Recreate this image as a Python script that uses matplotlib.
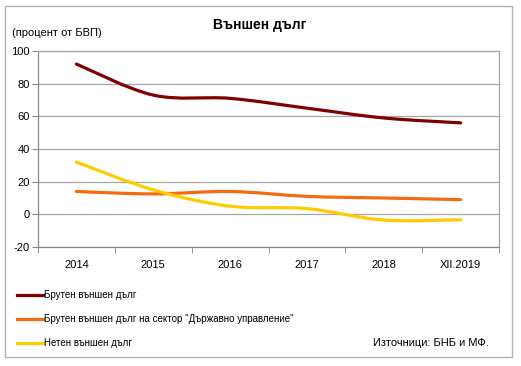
import numpy as np
import matplotlib
matplotlib.use("Agg")
import matplotlib.pyplot as plt
from matplotlib.path import Path
from matplotlib.patches import PathPatch, Rectangle
from matplotlib.lines import Line2D

plt.rcParams["font.family"] = ["Liberation Sans", "DejaVu Sans"]
plt.rcParams["axes.unicode_minus"] = False

# --- данни ---
godini = ["2014", "2015", "2016", "2017", "2018", "XII.2019"]
bruten_dalg = [92, 73, 71, 65, 59, 56]
bruten_du = [14, 12.5, 14, 11, 10, 9]
neten_dalg = [32, 15, 5, 3.5, -3.5, -3.3]

serii = [
    ("Брутен външен дълг", bruten_dalg, "#800000"),
    ("Брутен външен дълг на сектор \"Държавно управление\"", bruten_du, "#F26B10"),
    ("Нетен външен дълг", neten_dalg, "#FFCC00"),
]

GRID = "#A6A6A6"


def gladka(x, y):
    # Bezier пътека тип Catmull-Rom (изглаждане като в Excel)
    x = np.asarray(x, float); y = np.asarray(y, float)
    pts = np.column_stack([x, y])
    verts = [pts[0]]
    codes = [Path.MOVETO]
    n = len(pts)
    for i in range(n - 1):
        p0 = pts[i - 1] if i > 0 else pts[i]
        p1, p2 = pts[i], pts[i + 1]
        p3 = pts[i + 2] if i + 2 < n else pts[i + 1]
        c1 = p1 + (p2 - p0) / 6.0
        c2 = p2 - (p3 - p1) / 6.0
        verts += [c1, c2, p2]
        codes += [Path.CURVE4] * 3
    return Path(verts, codes)


fig = plt.figure(figsize=(5.21, 3.66), dpi=100, facecolor="white")

# рамка на цялата графика
fig.patches.append(Rectangle((5 / 521, 1 - 357 / 366), 507 / 521, 351 / 366,
                             transform=fig.transFigure, fill=False,
                             edgecolor="#B4B4B4", lw=1.0))

ax = fig.add_axes([38 / 521, 1 - 247 / 366, 461 / 521, 196 / 366])
x = np.arange(len(godini))

for ime, vals, col in serii:
    ax.add_patch(PathPatch(gladka(x, vals), fill=False, edgecolor=col,
                           lw=2.3, capstyle="round", joinstyle="round"))

ax.set_xlim(-0.5, len(godini) - 0.5)
ax.set_ylim(-20, 100)
ax.set_yticks(np.arange(-20, 101, 20))
ax.set_xticks(x)
ax.set_xticklabels(godini)
ax.set_xticks(np.arange(-0.5, len(godini), 1), minor=True)
ax.tick_params(axis="x", which="major", length=0, pad=9, labelsize=8)
ax.tick_params(axis="x", which="minor", length=4, color="#888888", direction="out")
ax.tick_params(axis="y", length=4, color="#888888", direction="out", pad=2, labelsize=8)
ax.grid(axis="y", color=GRID, lw=0.9)
ax.set_axisbelow(True)
for s in ax.spines.values():
    s.set_color(GRID)
    s.set_linewidth(0.9)
ax.spines["left"].set_color("#888888")
ax.spines["bottom"].set_color("#888888")

fig.text(260 / 521, 1 - 25 / 366, "Външен дълг", ha="center", va="center",
         fontsize=10, fontweight="bold")
fig.text(12 / 521, 1 - 33 / 366, "(процент от БВП)", ha="left", va="center",
         fontsize=8)

# легенда
for i, (ime, vals, col) in enumerate(serii):
    yy = 1 - (295 + 24 * i) / 366
    fig.lines.append(Line2D([17 / 521, 43 / 521], [yy, yy], transform=fig.transFigure,
                            color=col, lw=2.3))
    fig.text(44 / 521, yy, ime, ha="left", va="center", fontsize=7)

fig.text(489 / 521, 1 - 343 / 366, "Източници: БНБ и МФ.", ha="right", va="center",
         fontsize=8)

fig.savefig("out.png", dpi=100, facecolor="white")
